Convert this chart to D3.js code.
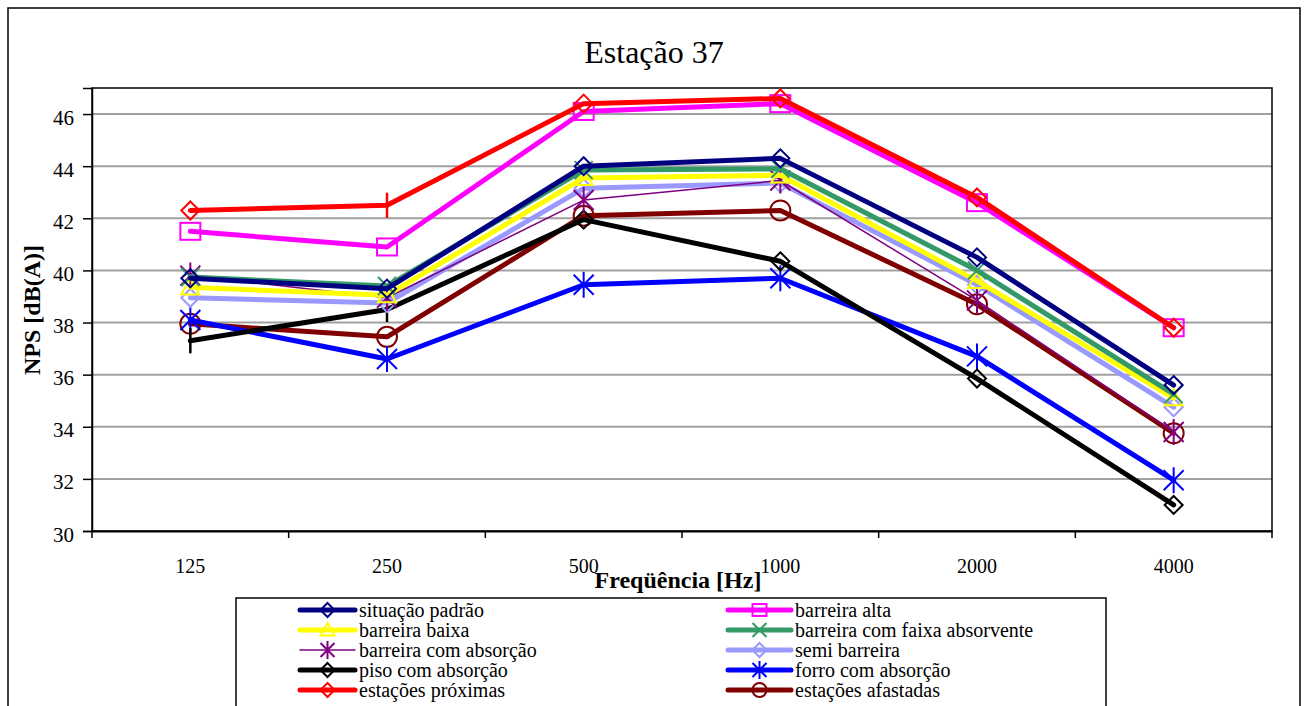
<!DOCTYPE html>
<html><head><meta charset="utf-8">
<script src="https://cdn.jsdelivr.net/npm/d3@7"></script>
<style>body{margin:0;background:#fff;}</style>
</head><body><svg id="c" width="1308" height="706" font-family="Liberation Serif"></svg>
<script>
const categories = ["125","250","500","1000","2000","4000"];
const yTicks = [30,32,34,36,38,40,42,44,46];
const seriesNames = ["situação padrão","barreira alta","barreira baixa","barreira com faixa absorvente","barreira com absorção","semi barreira","piso com absorção","forro com absorção","estações próximas","estações afastadas"];
const situacaoPadrao = [39.7,39.3,44.0,44.3,40.5,35.6];
const barreiraAlta = [41.5,40.9,46.1,46.4,42.6,37.8];
const barreiraBaixa = [39.35,39.05,43.55,43.65,39.6,35.1];
const barreiraFaixa = [39.75,39.4,43.85,43.9,40.0,35.25];
const barreiraAbsorcao = [39.8,38.95,42.7,43.45,38.85,33.8];
const semiBarreira = [38.95,38.75,43.15,43.35,39.45,34.75];
const pisoAbsorcao = [37.3,38.5,41.95,40.35,35.85,31.0];
const forroAbsorcao = [38.1,36.6,39.45,39.7,36.7,31.95];
const estacoesProximas = [42.3,42.5,46.4,46.6,42.8,37.8];
const estacoesAfastadas = [37.95,37.45,42.1,42.3,38.7,33.75];

const styles = [
 {c:"#000080",w:5,m:"diamond"},
 {c:"#FF00FF",w:5,m:"square"},
 {c:"#FFFF00",w:5,m:"triangle"},
 {c:"#339966",w:5,m:"x"},
 {c:"#800080",w:1.5,m:"star"},
 {c:"#9999FF",w:5,m:"diamond"},
 {c:"#000000",w:5,m:"diamond",over:{0:"bar",1:"bar"}},
 {c:"#0000FF",w:5,m:"star"},
 {c:"#FF0000",w:5,m:"diamond",over:{1:"bar"}},
 {c:"#800000",w:5,m:"circle"}
];
const values = [situacaoPadrao,barreiraAlta,barreiraBaixa,barreiraFaixa,barreiraAbsorcao,semiBarreira,pisoAbsorcao,forroAbsorcao,estacoesProximas,estacoesAfastadas];
const drawOrder = [9,7,6,5,4,2,3,0,1,8];
const FONT = "Liberation Serif";

const svg = d3.select("#c");
svg.append("rect").attr("x",8).attr("y",8).attr("width",1292).attr("height",720).attr("fill","none").attr("stroke","#000").attr("stroke-width",1.5);

const L=92,R=1272,T=88,B=531;
const x = d3.scaleBand().domain(categories).range([L,R]).padding(0);
const y = d3.scaleLinear().domain([30,47]).range([B,T]);

svg.append("text").attr("x",654).attr("y",63).attr("text-anchor","middle").attr("font-size",32).text("Estação 37");

const g = svg.append("g");
g.selectAll("line.grid").data(yTicks.filter(d=>d>30)).join("line")
 .attr("x1",L).attr("x2",R).attr("y1",d=>y(d)).attr("y2",d=>y(d))
 .attr("stroke","#a0a0a0").attr("stroke-width",2);
g.append("rect").attr("x",L).attr("y",T).attr("width",R-L).attr("height",B-T).attr("fill","none").attr("stroke","#000").attr("stroke-width",1.5);

const ya = d3.axisLeft(y).tickValues(yTicks).tickSize(9).tickPadding(9);
const yg = svg.append("g").attr("transform",`translate(${L},0)`).call(ya);
yg.attr("font-family",FONT);
yg.select(".domain").attr("stroke-width",1.5);
yg.selectAll("text").attr("font-size",21).attr("fill","#000").attr("dy","0.48em");
yg.selectAll("line").attr("stroke-width",1.5);
const xa = d3.axisBottom(x).tickSize(0).tickPadding(28);
const xg = svg.append("g").attr("transform",`translate(0,${B})`).call(xa);
xg.attr("font-family",FONT);
xg.select(".domain").attr("stroke-width",2);
xg.selectAll("text").attr("font-size",20).attr("fill","#000");
const bounds = categories.map(c=>x(c)).concat([R]);
xg.selectAll("line.bt").data(bounds).join("line").attr("class","bt")
 .attr("x1",d=>d).attr("x2",d=>d).attr("y1",0).attr("y2",7).attr("stroke","#000").attr("stroke-width",1.5);

svg.append("text").attr("x",678).attr("y",588).attr("text-anchor","middle").attr("font-size",24).attr("font-weight","bold").text("Freqüência [Hz]");
svg.append("text").attr("transform","translate(40,310) rotate(-90)").attr("text-anchor","middle").attr("font-size",24).attr("font-weight","bold").text("NPS [dB(A)]");

function marker(sel, type, color, cx, cy, s){
  const gg = sel.append("g").attr("transform",`translate(${cx},${cy})`).attr("fill","none").attr("stroke",color).attr("stroke-width",2);
  if(type==="diamond") gg.append("path").attr("d",`M0,${-s}L${s},0L0,${s}L${-s},0Z`);
  else if(type==="square") gg.append("rect").attr("x",-s).attr("y",-s*0.85).attr("width",2*s).attr("height",1.7*s);
  else if(type==="triangle") gg.append("path").attr("d",`M0,${-s}L${s},${s*0.8}L${-s},${s*0.8}Z`);
  else if(type==="x") gg.append("path").attr("d",`M${-s},${-s}L${s},${s}M${s},${-s}L${-s},${s}`);
  else if(type==="star") gg.append("path").attr("d",`M${-s},${-s}L${s},${s}M${s},${-s}L${-s},${s}M0,${-s*1.3}L0,${s*1.3}`);
  else if(type==="circle") gg.append("circle").attr("r",s);
  else if(type==="bar") gg.append("path").attr("d",`M0,${-s*1.4}L0,${s*1.4}`).attr("stroke-width",2.5);
  return gg;
}
const msize = {diamond:9,square:10,triangle:9,x:9,star:10,circle:10,bar:9};

const line = d3.line().x((d,i)=>x(categories[i])+x.bandwidth()/2).y(d=>y(d));
const pg = svg.append("g");
drawOrder.forEach(k=>{
  const st = styles[k];
  pg.append("path").datum(values[k]).attr("d",line).attr("fill","none").attr("stroke",st.c).attr("stroke-width",st.w).attr("stroke-linejoin","round").attr("stroke-linecap","round");
  values[k].forEach((v,i)=>{
    const m = (st.over && st.over[i]) || st.m;
    marker(pg, m, st.c, x(categories[i])+x.bandwidth()/2, y(v), msize[m]);
  });
});

svg.append("rect").attr("x",236).attr("y",598).attr("width",870).attr("height",130).attr("fill","#fff").attr("stroke","#000").attr("stroke-width",1.5);
const rowsY = [610,630,650,670,690];
seriesNames.forEach((name,k)=>{
  const col = k%2, row = Math.floor(k/2);
  const x0 = col===0?300:728, x1 = col===0?355:791, tx = col===0?359:795;
  const yy = rowsY[row];
  const st = styles[k];
  svg.append("line").attr("x1",x0).attr("x2",x1).attr("y1",yy).attr("y2",yy).attr("stroke",st.c).attr("stroke-width",st.w).attr("stroke-linecap","round");
  marker(svg, st.m, st.c, (x0+x1)/2, yy, 7);
  svg.append("text").attr("x",tx).attr("y",yy+7).attr("font-size",20).text(name);
});
svg.selectAll("text").attr("font-family",FONT);
</script></body></html>
